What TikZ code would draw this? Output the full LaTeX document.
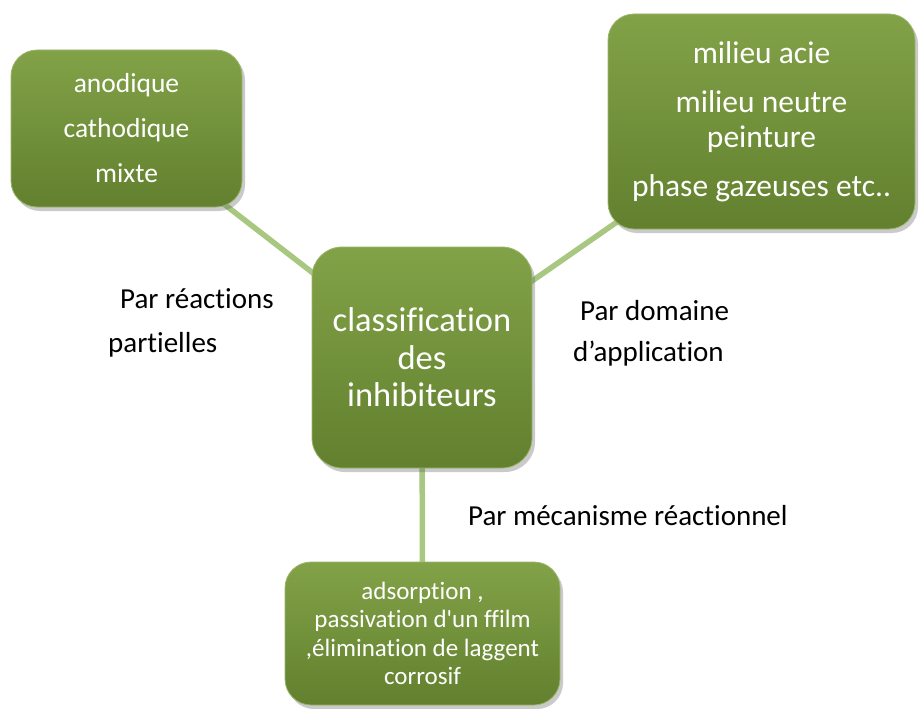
\documentclass[tikz,border=0pt]{standalone}
\usepackage{fontspec}
\setmainfont{Carlito}[Ligatures={NoCommon}]
\newfontfamily\plainfont{Carlito}[Ligatures={NoCommon}]
\usetikzlibrary{shadows,backgrounds}
\definecolor{boxtop}{RGB}{130,162,72}
\definecolor{boxbot}{RGB}{98,128,46}
\definecolor{linkgreen}{RGB}{168,199,128}
\tikzset{
  gbox/.style={rounded corners=26pt, top color=boxtop, bottom color=boxbot,
    draw=boxtop!80!white, line width=0.8pt, text=white, align=center,
    inner sep=0pt,
    drop shadow={shadow xshift=3pt, shadow yshift=-4pt, opacity=0.35, fill=black!60}},
  link/.style={draw=linkgreen, line width=5.5pt},
  lbl/.style={anchor=base west, inner sep=0pt, text=black, font=\fontsize{29}{31}\selectfont}
}
\begin{document}
\begin{tikzpicture}[x=1pt,y=-1pt]
\useasboundingbox (0,0) rectangle (919,709);
\node[gbox, minimum width=231pt, minimum height=157pt, font=\fontsize{27.5}{45}\selectfont] (L) at (126.5,128.5)
  {anodique\\cathodique\\mixte};
\node[gbox, minimum width=307pt, minimum height=215pt, font=\fontsize{31.5}{35}\selectfont] (R) at (761.5,121.5)
  {milieu acie\\[14pt]milieu neutre\\peinture\\[14pt]phase gazeuses etc..};
\node[gbox, rounded corners=30pt, minimum width=220pt, minimum height=221pt, font=\fontsize{34.5}{37.5}\selectfont] (C) at (422,357.5)
  {classification\\des\\inhibiteurs};
\node[gbox, minimum width=275pt, minimum height=143pt, font=\plainfont\fontsize{25}{28.5}\selectfont] (B) at (422.5,633.5)
  {adsorption ,\\passivation d'un ffilm\\,élimination de laggent\\corrosif};
\begin{scope}[on background layer]
\draw[link] (L.center) -- (C.center);
\draw[link] (R.center) -- (C.center);
\draw[link] (C.center) -- (B.center);
\end{scope}
\node[lbl] (l1) at (120,308) {Par réactions};
\node[lbl] (l2) at (108,352) {partielles};
\node[lbl] (l3) at (580,320) {Par domaine};
\node[lbl] (l4) at (573,361) {d’application};
\node[lbl] (l5) at (468,525) {Par mécanisme réactionnel};
\end{tikzpicture}
\end{document}
